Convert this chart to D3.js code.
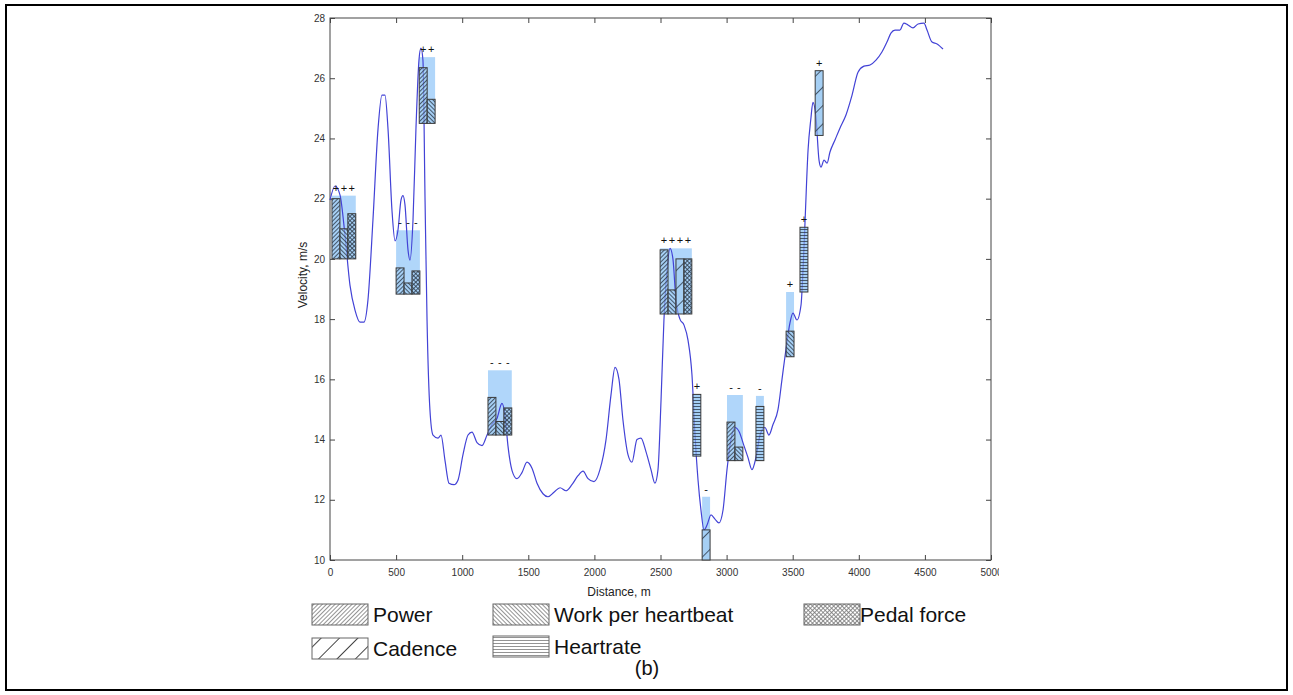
<!DOCTYPE html>
<html lang="en">
<head>
    <meta charset="UTF-8">
    <title>Velocity profile</title>
    <script src="https://cdn.jsdelivr.net/npm/d3@7"></script>
    <style>
        body { margin: 0; background: #fff; }
        text { font-family: "Liberation Sans", Arial, sans-serif; }
    </style>
</head>
<body>
<script type="text/javascript">
    var width = 1293;
    var height = 695;

    // velocity trace
    var distance = [0, 38, 76, 113, 151, 189, 227, 257, 287, 325, 363, 393, 416, 439, 469, 492, 514, 537, 552, 567,
        590, 605, 628, 650, 673, 688, 703, 719, 734, 756, 779, 817, 840, 870, 900, 938, 968, 1006, 1044, 1074,
        1112, 1150, 1188, 1225, 1263, 1301, 1324, 1346, 1377, 1414, 1452, 1490, 1528, 1566, 1611, 1649, 1694, 1740, 1785, 1830,
        1876, 1914, 1952, 1997, 2042, 2088, 2126, 2156, 2186, 2216, 2254, 2284, 2322, 2352, 2390, 2428, 2458, 2481, 2504, 2526,
        2549, 2572, 2594, 2617, 2647, 2678, 2708, 2738, 2761, 2784, 2806, 2829, 2852, 2882, 2912, 2942, 2973, 3003, 3033, 3063,
        3094, 3131, 3162, 3192, 3222, 3253, 3290, 3320, 3351, 3389, 3419, 3449, 3479, 3502, 3532, 3563, 3578, 3593, 3616, 3638,
        3653, 3676, 3699, 3714, 3737, 3760, 3782, 3820, 3858, 3903, 3949, 3994, 4039, 4085, 4130, 4175, 4213, 4243, 4274, 4311,
        4341, 4372, 4410, 4448, 4493, 4516, 4554, 4592, 4637];
    var velocity = [21.95, 22.42, 22.12, 20.8, 19.13, 18.3, 17.9, 17.9, 18.63, 21.3, 24.3, 25.44, 25.44, 24.3, 21.6, 20.6, 20.95, 21.95, 22.1, 21.8,
        20.3, 19.96, 21.3, 24.3, 26.6, 27.0, 26.6, 21.95, 17.97, 14.98, 14.15, 14.05, 14.15, 13.3, 12.55, 12.5, 12.65, 13.5, 14.15, 14.25,
        13.9, 13.8, 14.15, 14.5, 14.7, 15.2, 14.8, 13.8, 12.97, 12.7, 12.9, 13.25, 13.05, 12.55, 12.2, 12.1, 12.25, 12.4, 12.3, 12.5,
        12.8, 12.95, 12.7, 12.6, 13.0, 14.0, 15.5, 16.4, 16.0, 14.65, 13.5, 13.25, 14.0, 14.05, 13.6, 13.0, 12.55, 13.0, 15.3, 17.97,
        19.6, 20.35, 20.0, 18.63, 18.0, 17.8, 17.3, 16.15, 14.15, 12.65, 11.66, 11.0, 11.16, 11.5, 11.36, 11.23, 11.66, 13.0, 14.0, 14.4,
        14.27, 13.8, 13.4, 13.0, 13.4, 14.15, 14.4, 14.15, 14.5, 15.0, 16.0, 17.0, 17.87, 18.2, 17.97, 18.47, 19.63, 21.2, 23.6, 24.68,
        25.2, 24.7, 23.28, 23.05, 23.28, 23.18, 23.55, 23.95, 24.35, 24.78, 25.44, 26.2, 26.4, 26.44, 26.6, 26.87, 27.2, 27.5, 27.6, 27.6,
        27.83, 27.77, 27.67, 27.8, 27.83, 27.6, 27.2, 27.14, 26.97];

    // factor groups: start distance, base, shaded top, factors, bar tops, signs
    var groupStart = [15, 500, 675, 1195, 2497, 2745, 2815, 3003, 3222, 3450, 3555, 3670];
    var groupBase = [20.0, 18.83, 24.5, 14.15, 18.17, 13.45, 10.0, 13.3, 13.3, 16.75, 18.9, 24.1];
    var groupShadeTop = [22.1, 20.95, 26.7, 16.3, 20.35, 15.5, 12.1, 15.48, 15.45, 18.9, 21.05, 26.25];
    var groupFactors = [["P", "W", "F"], ["P", "W", "F"], ["P", "W"], ["P", "W", "F"], ["P", "W", "C", "F"],
        ["H"], ["C"], ["P", "W"], ["H"], ["W"], ["H"], ["C"]];
    var groupTops = [[22.0, 21.0, 21.5], [19.7, 19.2, 19.6], [26.35, 25.3], [15.4, 14.6, 15.05], [20.3, 18.97, 20.0, 20.0],
        [15.5], [11.0], [14.58, 13.75], [15.1], [17.6], [21.05], [26.25]];
    var groupSigns = [["+", "+", "+"], ["-", "-", "-"], ["+", "+"], ["-", "-", "-"], ["+", "+", "+", "+"],
        ["+"], ["-"], ["-", "-"], ["-"], ["+"], ["+"], ["+"]];
    var barWidth = 60;

    var legendNames = ["Power", "Work per heartbeat", "Pedal force", "Cadence", "Heartrate"];
    var legendCodes = ["P", "W", "F", "C", "H"];
    var xTicks = [0, 500, 1000, 1500, 2000, 2500, 3000, 3500, 4000, 4500, 5000];
    var yTicks = [10, 12, 14, 16, 18, 20, 22, 24, 26, 28];

    var svg = d3.select('body').append('svg')
            .attr('width', width)
            .attr('height', height);

    var x = d3.scaleLinear().domain([0, 5000]).range([330, 991]);
    var y = d3.scaleLinear().domain([10, 28]).range([560, 18]);

    // hatch patterns
    var defs = svg.append('defs');
    function hatch(id, code, bg, stroke, sw) {
        var s = code === 'C' ? 13 : 3;
        var rot = {P: 45, W: -45, F: 45, C: 45, H: 0}[code];
        var p = defs.append('pattern')
                .attr('id', id)
                .attr('patternUnits', 'userSpaceOnUse')
                .attr('width', s)
                .attr('height', s)
                .attr('patternTransform', 'rotate(' + rot + ')');
        p.append('rect').attr('width', s).attr('height', s)
                .attr('fill', bg.c).attr('fill-opacity', bg.o);
        if (code === 'H') {
            p.append('line').attr('x1', 0).attr('x2', s).attr('y1', s / 2).attr('y2', s / 2)
                    .attr('stroke', stroke).attr('stroke-width', sw);
        } else {
            p.append('line').attr('x1', s / 2).attr('x2', s / 2).attr('y1', 0).attr('y2', s)
                    .attr('stroke', stroke).attr('stroke-width', sw);
            if (code === 'F') {
                p.append('line').attr('x1', 0).attr('x2', s).attr('y1', s / 2).attr('y2', s / 2)
                        .attr('stroke', stroke).attr('stroke-width', sw);
            }
        }
    }
    legendCodes.forEach(function (c) {
        hatch('bar' + c, c, {c: '#9cc8ee', o: 0.55}, '#2c3a48', 0.8);
        hatch('leg' + c, c, {c: '#ffffff', o: 1}, c === 'C' ? '#444' : '#777', c === 'C' ? 1 : 0.8);
    });

    // the last x label is cut by the figure edge
    defs.append('clipPath').attr('id', 'figclip').append('rect')
            .attr('x', 0).attr('y', -10).attr('width', 999).attr('height', 60);

    // axes box with inward ticks
    svg.append('g')
            .attr('transform', 'translate(0,560)')
            .attr('clip-path', 'url(#figclip)')
            .call(d3.axisBottom(x).tickValues(xTicks).tickFormat(d3.format('d'))
                    .tickSizeInner(-5).tickSizeOuter(0).tickPadding(9))
            .call(function (g) { g.select('.domain').remove(); });
    svg.append('g')
            .attr('transform', 'translate(0,18)')
            .call(d3.axisTop(x).tickValues(xTicks).tickSizeInner(-5).tickSizeOuter(0).tickFormat(''))
            .call(function (g) { g.select('.domain').remove(); });
    svg.append('g')
            .attr('transform', 'translate(330,0)')
            .call(d3.axisLeft(y).tickValues(yTicks).tickFormat(d3.format('d'))
                    .tickSizeInner(-5).tickSizeOuter(0).tickPadding(5))
            .call(function (g) { g.select('.domain').remove(); });
    svg.append('g')
            .attr('transform', 'translate(991,0)')
            .call(d3.axisRight(y).tickValues(yTicks).tickSizeInner(-5).tickSizeOuter(0).tickFormat(''))
            .call(function (g) { g.select('.domain').remove(); });
    svg.selectAll('.tick line').attr('stroke', '#444');
    svg.selectAll('.tick text').attr('fill', '#333').style('font-size', '10px')
            .style('font-family', '"Liberation Sans", Arial, sans-serif');
    svg.append('rect')
            .attr('x', 330).attr('y', 18).attr('width', 661).attr('height', 542)
            .attr('fill', 'none').attr('stroke', '#444').attr('stroke-width', 1);

    // shaded ranges
    var groups = groupStart.map(function (s, i) {
        return {start: s, base: groupBase[i], shade: groupShadeTop[i], factors: groupFactors[i],
            tops: groupTops[i], signs: groupSigns[i]};
    });
    svg.append('g').selectAll('rect')
            .data(groups)
            .enter()
            .append('rect')
            .attr('x', function (d) { return x(d.start); })
            .attr('width', function (d) { return x(d.start + d.factors.length * barWidth) - x(d.start); })
            .attr('y', function (d) { return y(d.shade); })
            .attr('height', function (d) { return y(d.base) - y(d.shade); })
            .attr('fill', '#b0d6fa');

    // velocity line
    var line = d3.line()
            .x(function (d) { return x(d[0]); })
            .y(function (d) { return y(d[1]); })
            .curve(d3.curveMonotoneX);
    svg.append('path')
            .datum(d3.zip(distance, velocity))
            .attr('d', line)
            .attr('fill', 'none')
            .attr('stroke', '#4242d6')
            .attr('stroke-width', 1.2);

    // hatched bars and signs
    var g = svg.append('g').selectAll('g')
            .data(groups)
            .enter()
            .append('g');
    g.selectAll('rect')
            .data(function (d) {
                return d.factors.map(function (f, j) {
                    return {code: f, x0: d.start + j * barWidth, top: d.tops[j], base: d.base};
                });
            })
            .enter()
            .append('rect')
            .attr('x', function (d) { return x(d.x0); })
            .attr('width', function (d) { return x(d.x0 + barWidth) - x(d.x0); })
            .attr('y', function (d) { return y(d.top); })
            .attr('height', function (d) { return y(d.base) - y(d.top); })
            .attr('fill', function (d) { return 'url(#bar' + d.code + ')'; })
            .attr('stroke', '#3a3a3a')
            .attr('stroke-width', 1);
    g.selectAll('text')
            .data(function (d) {
                return d.signs.map(function (s, j) {
                    return {s: s, xc: d.start + (j + 0.5) * barWidth, top: d.shade};
                });
            })
            .enter()
            .append('text')
            .attr('x', function (d) { return x(d.xc); })
            .attr('y', function (d) { return y(d.top) - 4; })
            .attr('text-anchor', 'middle')
            .style('font-size', '11px')
            .attr('fill', '#111')
            .text(function (d) { return d.s; });

    // axis titles
    svg.append('text')
            .attr('x', 619).attr('y', 596)
            .attr('text-anchor', 'middle')
            .style('font-size', '12px')
            .attr('fill', '#222')
            .text('Distance, m');
    svg.append('text')
            .attr('transform', 'translate(307,275) rotate(-90)')
            .attr('text-anchor', 'middle')
            .style('font-size', '12px')
            .attr('fill', '#222')
            .text('Velocity, m/s');

    // legend
    var legPos = [[312, 604], [493, 604], [804, 604], [312, 638], [493, 636]];
    var leg = svg.append('g').selectAll('g')
            .data(legendNames)
            .enter()
            .append('g')
            .attr('transform', function (d, i) {
                return 'translate(' + legPos[i][0] + ',' + legPos[i][1] + ')';
            });
    leg.append('rect')
            .attr('width', 56).attr('height', 21)
            .attr('fill', function (d, i) { return 'url(#leg' + legendCodes[i] + ')'; })
            .attr('stroke', '#666').attr('stroke-width', 1);
    leg.append('text')
            .attr('x', function (d, i) { return i === 2 ? 56 : 61; })
            .attr('y', 18)
            .style('font-size', '21px')
            .attr('fill', '#111')
            .text(function (d) { return d; });

    svg.append('text')
            .attr('x', 647).attr('y', 675)
            .attr('text-anchor', 'middle')
            .style('font-size', '20px')
            .attr('fill', '#111')
            .text('(b)');

    // outer frame
    svg.append('rect')
            .attr('x', 6).attr('y', 5).attr('width', 1281).attr('height', 685)
            .attr('fill', 'none').attr('stroke', '#000').attr('stroke-width', 2);
</script>
</body>
</html>
